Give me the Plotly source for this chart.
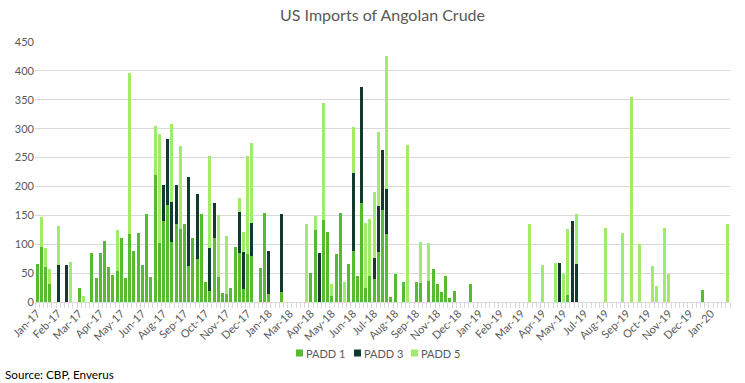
import pandas as pd
import plotly.graph_objects as go

# Weekly categories (week ending Fridays), Jan-2017 .. Feb-2020
WEEKS = pd.date_range("2017-01-06", periods=165, freq="7D")

# Tick labels, one every 5 weeks
TICK_LABELS = ["Jan-17", "Feb-17", "Mar-17", "Apr-17", "May-17", "Jun-17", "Aug-17", "Sep-17",
               "Oct-17", "Nov-17", "Dec-17", "Jan-18", "Mar-18", "Apr-18", "May-18", "Jun-18",
               "Jul-18", "Aug-18", "Sep-18", "Nov-18", "Dec-18", "Jan-19", "Feb-19", "Mar-19",
               "Apr-19", "May-19", "Jul-19", "Aug-19", "Sep-19", "Oct-19", "Nov-19", "Dec-19",
               "Jan-20"]

PADD1 = [66, 95, 61, 31, 0, 0, 0, 0, 0, 0,
         25, 0, 0, 85, 42, 85, 106, 61, 47, 54,
         111, 42, 118, 88, 120, 64, 153, 44, 219, 102,
         140, 168, 104, 135, 126, 135, 62, 111, 74, 152,
         35, 19, 111, 43, 16, 14, 24, 95, 85, 22,
         83, 80, 0, 59, 154, 14, 0, 0, 17, 0,
         0, 0, 0, 0, 0, 50, 125, 0, 142, 121,
         10, 83, 154, 0, 66, 88, 45, 171, 24, 45,
         40, 87, 159, 118, 9, 48, 0, 35, 0, 0,
         35, 33, 0, 36, 57, 31, 17, 45, 7, 19,
         0, 0, 0, 31, 0, 0, 0, 0, 0, 0,
         0, 0, 0, 0, 0, 0, 0, 0, 0, 0,
         0, 0, 0, 0, 0, 0, 12, 0, 0, 0,
         0, 0, 0, 0, 0, 0, 0, 0, 0, 0,
         0, 0, 0, 0, 0, 0, 0, 0, 0, 0,
         0, 0, 0, 0, 0, 0, 0, 0, 21, 0,
         0, 0, 0, 0, 0]

PADD3 = [0, 0, 0, 0, 0, 64, 0, 64, 0, 0,
         0, 0, 0, 0, 0, 0, 0, 0, 0, 0,
         0, 0, 0, 0, 0, 0, 0, 0, 0, 0,
         63, 114, 69, 68, 0, 0, 154, 0, 113, 0,
         0, 75, 61, 0, 0, 0, 0, 0, 71, 64,
         0, 57, 0, 0, 0, 74, 0, 0, 135, 0,
         0, 0, 0, 0, 0, 0, 0, 85, 0, 0,
         0, 0, 0, 0, 0, 135, 0, 201, 0, 0,
         36, 80, 104, 78, 0, 0, 0, 0, 0, 0,
         0, 0, 0, 0, 0, 0, 0, 0, 0, 0,
         0, 0, 0, 0, 0, 0, 0, 0, 0, 0,
         0, 0, 0, 0, 0, 0, 0, 0, 0, 0,
         0, 0, 0, 0, 68, 0, 0, 140, 66, 0,
         0, 0, 0, 0, 0, 0, 0, 0, 0, 0,
         0, 0, 0, 0, 0, 0, 0, 0, 0, 0,
         0, 0, 0, 0, 0, 0, 0, 0, 0, 0,
         0, 0, 0, 0, 0]

PADD5 = [0, 52, 33, 26, 0, 68, 0, 0, 69, 0,
         0, 10, 0, 0, 0, 0, 0, 0, 0, 71,
         0, 0, 279, 0, 0, 0, 0, 0, 86, 189,
         0, 0, 135, 0, 144, 0, 0, 0, 0, 0,
         0, 158, 0, 108, 0, 100, 0, 0, 24, 36,
         170, 139, 0, 0, 0, 0, 0, 0, 0, 0,
         0, 0, 0, 0, 135, 0, 24, 0, 203, 0,
         21, 0, 0, 35, 0, 80, 0, 0, 113, 99,
         114, 128, 0, 230, 0, 0, 0, 0, 272, 0,
         0, 71, 0, 66, 0, 0, 0, 0, 0, 0,
         0, 0, 0, 0, 0, 0, 0, 0, 0, 0,
         0, 0, 0, 0, 0, 0, 0, 135, 0, 0,
         64, 0, 0, 68, 0, 49, 115, 0, 87, 0,
         0, 0, 0, 0, 0, 128, 0, 0, 0, 120,
         0, 354, 0, 100, 0, 0, 62, 28, 0, 128,
         49, 0, 0, 0, 0, 0, 0, 0, 0, 0,
         0, 0, 0, 0, 135]

SERIES = [("PADD 1", PADD1, "#57BB31"),
          ("PADD 3", PADD3, "#133A2E"),
          ("PADD 5", PADD5, "#A0EB6B")]

FONT = "Lato, 'Open Sans', sans-serif"
GREY = "#595959"

W, H = 745, 383
ML, MR, MT, MB = 35, 15, 42, 81
PW, PH = W - ML - MR, H - MT - MB


def px_x(x):
    return (x - ML) / PW


def px_y(y):
    return (H - MB - y) / PH


fig = go.Figure()
for name, vals, color in SERIES:
    fig.add_trace(go.Bar(x=WEEKS, y=vals, name=name, marker_color=color,
                         marker_line_width=0, showlegend=False))

half_week = pd.Timedelta(days=3.5)
tickvals = list(WEEKS[::5])

fig.update_layout(
    width=W, height=H,
    barmode="stack", bargap=0.29,
    plot_bgcolor="white", paper_bgcolor="white",
    margin=dict(l=ML, r=MR, t=MT, b=MB, autoexpand=False),
    title=dict(text="US Imports of Angolan Crude", x=0.5, xref="paper", xanchor="center",
               y=1 - 15 / H, yanchor="middle",
               font=dict(family=FONT, size=16, color=GREY)),
    font=dict(family=FONT, color=GREY),
    showlegend=False,
)
fig.update_xaxes(
    type="date", automargin=False,
    range=[WEEKS[0] - half_week, WEEKS[-1] + half_week],
    tickmode="array", tickvals=tickvals, ticktext=TICK_LABELS,
    tickangle=-45, tickfont=dict(size=11, color=GREY),
    ticks="", showgrid=False,
    showline=True, linecolor="#D9D9D9", linewidth=1,
    minor=dict(ticks="outside", ticklen=5, tickcolor="#D9D9D9",
               tick0=WEEKS[0] - half_week, dtick=7 * 86400000, showgrid=False),
)
fig.update_yaxes(
    automargin=False,
    range=[0, 450], dtick=50, showgrid=True, gridcolor="#D9D9D9", gridwidth=1,
    zeroline=False, showline=False, ticks="",
    tickfont=dict(size=11, color=GREY),
)

# Legend drawn as swatches + text, laid out like the original
LEGEND_X = [296, 354, 411]
LEGEND_Y = 353
for (name, _, color), lx in zip(SERIES, LEGEND_X):
    fig.add_shape(type="rect", xref="paper", yref="paper",
                  x0=px_x(lx), x1=px_x(lx + 7), y0=px_y(LEGEND_Y + 3.5), y1=px_y(LEGEND_Y - 3.5),
                  fillcolor=color, line_width=0)
    fig.add_annotation(text=name, xref="paper", yref="paper",
                       x=px_x(lx + 8), xanchor="left", y=px_y(LEGEND_Y), yanchor="middle",
                       showarrow=False, font=dict(family=FONT, size=11, color=GREY))

fig.add_annotation(text="Source: CBP, Enverus", xref="paper", yref="paper",
                   x=px_x(3), xanchor="left", y=px_y(374), yanchor="middle",
                   showarrow=False, font=dict(family=FONT, size=11.7, color="#000000"))

fig.write_html("out.html", config={"displayModeBar": False},
               post_script="document.body.style.margin='0';document.body.style.overflow='hidden';")
